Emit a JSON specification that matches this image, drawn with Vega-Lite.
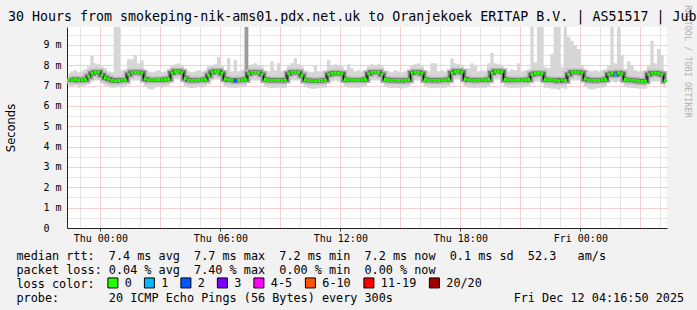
{
"$schema": "https://vega.github.io/schema/vega-lite/v6.json",
"width": 600, "height": 201,
"autosize": {"type": "none"},
"padding": {"left": 67, "top": 27, "right": 30, "bottom": 82},
"background": "#f2f2f2",
"config": {"view": {"fill": "#ffffff", "stroke": null}, "font": "DejaVu Sans Mono", "axis": {"labelOverlap": false}},
"title": {"text": "30 Hours from smokeping-nik-ams01.pdx.net.uk to Oranjekoek ERITAP B.V. | AS51517 | Jub", "anchor": "start", "frame": "group", "dx": -59, "dy": 30, "offset": 0, "baseline": "alphabetic", "font": "DejaVu Sans Mono", "fontSize": 13.3, "fontWeight": "normal", "color": "#000000"},
"datasets": {
"dark": [{"h0": 7.233, "h1": 7.4, "y0": 7.45, "y1": 9.88}],
"rtt": [
{"h":-1.583,"med":7.28,"lo":6.98,"hi":7.62,"loss":"0"},
{"h":-1.417,"med":7.27,"lo":6.95,"hi":7.7,"loss":"0"},
{"h":-1.25,"med":7.30,"lo":7.0,"hi":7.75,"loss":"0"},
{"h":-1.083,"med":7.26,"lo":6.9,"hi":7.65,"loss":"0"},
{"h":-0.917,"med":7.28,"lo":6.95,"hi":7.7,"loss":"0"},
{"h":-0.75,"med":7.30,"lo":7.0,"hi":7.8,"loss":"0"},
{"h":-0.583,"med":7.45,"lo":7.05,"hi":7.95,"loss":"0"},
{"h":-0.417,"med":7.60,"lo":7.2,"hi":8.45,"loss":"0"},
{"h":-0.25,"med":7.66,"lo":7.25,"hi":8.1,"loss":"0"},
{"h":-0.083,"med":7.67,"lo":7.25,"hi":8.05,"loss":"0"},
{"h":0.083,"med":7.52,"lo":7.1,"hi":7.95,"loss":"0"},
{"h":0.25,"med":7.38,"lo":7.0,"hi":7.85,"loss":"0"},
{"h":0.417,"med":7.32,"lo":6.95,"hi":7.7,"loss":"0"},
{"h":0.583,"med":7.26,"lo":6.9,"hi":7.65,"loss":"0"},
{"h":0.75,"med":7.22,"lo":6.9,"hi":9.88,"loss":"0"},
{"h":0.917,"med":7.25,"lo":6.92,"hi":9.88,"loss":"0"},
{"h":1.083,"med":7.27,"lo":6.9,"hi":7.75,"loss":"0"},
{"h":1.25,"med":7.28,"lo":6.95,"hi":7.8,"loss":"0"},
{"h":1.417,"med":7.55,"lo":7.05,"hi":8.3,"loss":"0"},
{"h":1.583,"med":7.64,"lo":7.25,"hi":8.3,"loss":"0"},
{"h":1.75,"med":7.66,"lo":7.25,"hi":8.5,"loss":"0"},
{"h":1.917,"med":7.65,"lo":7.25,"hi":8.1,"loss":"0"},
{"h":2.083,"med":7.62,"lo":7.2,"hi":8.25,"loss":"0"},
{"h":2.25,"med":7.33,"lo":6.95,"hi":7.75,"loss":"0"},
{"h":2.417,"med":7.27,"lo":6.85,"hi":7.7,"loss":"0"},
{"h":2.583,"med":7.28,"lo":6.8,"hi":7.65,"loss":"0"},
{"h":2.75,"med":7.28,"lo":6.9,"hi":7.7,"loss":"0"},
{"h":2.917,"med":7.29,"lo":6.95,"hi":7.75,"loss":"0"},
{"h":3.083,"med":7.28,"lo":6.9,"hi":7.65,"loss":"0"},
{"h":3.25,"med":7.30,"lo":6.95,"hi":7.7,"loss":"0"},
{"h":3.417,"med":7.32,"lo":7.0,"hi":7.8,"loss":"0"},
{"h":3.583,"med":7.62,"lo":7.2,"hi":8.0,"loss":"0"},
{"h":3.75,"med":7.70,"lo":7.3,"hi":8.05,"loss":"0"},
{"h":3.917,"med":7.70,"lo":7.3,"hi":8.1,"loss":"0"},
{"h":4.083,"med":7.66,"lo":7.25,"hi":8.0,"loss":"0"},
{"h":4.25,"med":7.35,"lo":6.95,"hi":7.8,"loss":"0"},
{"h":4.417,"med":7.27,"lo":6.9,"hi":7.7,"loss":"0"},
{"h":4.583,"med":7.25,"lo":6.88,"hi":7.65,"loss":"0"},
{"h":4.75,"med":7.26,"lo":6.9,"hi":7.7,"loss":"0"},
{"h":4.917,"med":7.28,"lo":6.92,"hi":7.75,"loss":"0"},
{"h":5.083,"med":7.27,"lo":6.9,"hi":7.7,"loss":"0"},
{"h":5.25,"med":7.30,"lo":6.95,"hi":7.75,"loss":"0"},
{"h":5.417,"med":7.50,"lo":7.05,"hi":7.95,"loss":"0"},
{"h":5.583,"med":7.66,"lo":7.25,"hi":8.0,"loss":"0"},
{"h":5.75,"med":7.70,"lo":7.3,"hi":8.05,"loss":"0"},
{"h":5.917,"med":7.70,"lo":7.3,"hi":8.4,"loss":"0"},
{"h":6.083,"med":7.60,"lo":7.2,"hi":8.0,"loss":"0"},
{"h":6.25,"med":7.32,"lo":6.95,"hi":7.75,"loss":"0"},
{"h":6.417,"med":7.28,"lo":6.9,"hi":8.35,"loss":"0"},
{"h":6.583,"med":7.27,"lo":6.9,"hi":7.7,"loss":"0"},
{"h":6.75,"med":7.24,"lo":6.88,"hi":8.25,"loss":"2"},
{"h":6.917,"med":7.26,"lo":6.9,"hi":7.7,"loss":"0"},
{"h":7.083,"med":7.27,"lo":6.92,"hi":7.75,"loss":"0"},
{"h":7.25,"med":7.30,"lo":6.95,"hi":9.88,"loss":"0"},
{"h":7.417,"med":7.58,"lo":7.2,"hi":8.0,"loss":"0"},
{"h":7.583,"med":7.65,"lo":7.25,"hi":8.05,"loss":"0"},
{"h":7.75,"med":7.65,"lo":7.25,"hi":8.1,"loss":"0"},
{"h":7.917,"med":7.64,"lo":7.25,"hi":8.0,"loss":"0"},
{"h":8.083,"med":7.55,"lo":7.15,"hi":7.95,"loss":"0"},
{"h":8.25,"med":7.30,"lo":6.95,"hi":7.75,"loss":"0"},
{"h":8.417,"med":7.27,"lo":6.9,"hi":7.7,"loss":"0"},
{"h":8.583,"med":7.25,"lo":6.88,"hi":8.2,"loss":"0"},
{"h":8.75,"med":7.27,"lo":6.9,"hi":7.75,"loss":"0"},
{"h":8.917,"med":7.26,"lo":6.9,"hi":8.1,"loss":"0"},
{"h":9.083,"med":7.25,"lo":6.88,"hi":7.7,"loss":"0"},
{"h":9.25,"med":7.27,"lo":6.9,"hi":7.7,"loss":"0"},
{"h":9.417,"med":7.58,"lo":7.15,"hi":8.0,"loss":"0"},
{"h":9.583,"med":7.65,"lo":7.25,"hi":8.1,"loss":"0"},
{"h":9.75,"med":7.66,"lo":7.25,"hi":8.35,"loss":"0"},
{"h":9.917,"med":7.64,"lo":7.25,"hi":8.05,"loss":"0"},
{"h":10.083,"med":7.50,"lo":7.1,"hi":7.95,"loss":"0"},
{"h":10.25,"med":7.28,"lo":6.92,"hi":7.75,"loss":"0"},
{"h":10.417,"med":7.25,"lo":6.88,"hi":7.7,"loss":"0"},
{"h":10.583,"med":7.24,"lo":6.85,"hi":7.65,"loss":"0"},
{"h":10.75,"med":7.22,"lo":6.85,"hi":8.0,"loss":"0"},
{"h":10.917,"med":7.24,"lo":6.88,"hi":7.7,"loss":"0"},
{"h":11.083,"med":7.25,"lo":6.9,"hi":7.7,"loss":"0"},
{"h":11.25,"med":7.27,"lo":6.9,"hi":7.75,"loss":"0"},
{"h":11.417,"med":7.55,"lo":7.15,"hi":8.25,"loss":"0"},
{"h":11.583,"med":7.60,"lo":7.2,"hi":8.0,"loss":"0"},
{"h":11.75,"med":7.62,"lo":7.25,"hi":8.05,"loss":"0"},
{"h":11.917,"med":7.60,"lo":7.2,"hi":8.0,"loss":"0"},
{"h":12.083,"med":7.58,"lo":7.2,"hi":7.95,"loss":"0"},
{"h":12.25,"med":7.30,"lo":6.95,"hi":7.75,"loss":"0"},
{"h":12.417,"med":7.28,"lo":6.9,"hi":8.05,"loss":"0"},
{"h":12.583,"med":7.27,"lo":6.9,"hi":7.85,"loss":"0"},
{"h":12.75,"med":7.28,"lo":6.9,"hi":7.7,"loss":"0"},
{"h":12.917,"med":7.27,"lo":6.9,"hi":7.75,"loss":"0"},
{"h":13.083,"med":7.28,"lo":6.92,"hi":7.7,"loss":"0"},
{"h":13.25,"med":7.30,"lo":6.95,"hi":7.75,"loss":"0"},
{"h":13.417,"med":7.58,"lo":7.15,"hi":7.95,"loss":"0"},
{"h":13.583,"med":7.65,"lo":7.25,"hi":8.05,"loss":"0"},
{"h":13.75,"med":7.66,"lo":7.25,"hi":8.0,"loss":"0"},
{"h":13.917,"med":7.65,"lo":7.25,"hi":8.05,"loss":"0"},
{"h":14.083,"med":7.55,"lo":7.15,"hi":7.95,"loss":"0"},
{"h":14.25,"med":7.30,"lo":6.95,"hi":7.75,"loss":"0"},
{"h":14.417,"med":7.27,"lo":6.9,"hi":7.7,"loss":"0"},
{"h":14.583,"med":7.25,"lo":6.88,"hi":7.65,"loss":"0"},
{"h":14.75,"med":7.26,"lo":6.9,"hi":7.75,"loss":"0"},
{"h":14.917,"med":7.25,"lo":6.88,"hi":7.7,"loss":"0"},
{"h":15.083,"med":7.24,"lo":6.85,"hi":7.65,"loss":"0"},
{"h":15.25,"med":7.26,"lo":6.9,"hi":7.7,"loss":"0"},
{"h":15.417,"med":7.28,"lo":6.92,"hi":7.75,"loss":"0"},
{"h":15.583,"med":7.62,"lo":7.2,"hi":8.0,"loss":"0"},
{"h":15.75,"med":7.66,"lo":7.25,"hi":8.05,"loss":"0"},
{"h":15.917,"med":7.65,"lo":7.25,"hi":8.1,"loss":"0"},
{"h":16.083,"med":7.60,"lo":7.2,"hi":8.0,"loss":"0"},
{"h":16.25,"med":7.30,"lo":6.95,"hi":7.75,"loss":"0"},
{"h":16.417,"med":7.26,"lo":6.9,"hi":7.7,"loss":"0"},
{"h":16.583,"med":7.27,"lo":6.9,"hi":8.1,"loss":"0"},
{"h":16.75,"med":7.25,"lo":6.88,"hi":8.1,"loss":"0"},
{"h":16.917,"med":7.26,"lo":6.9,"hi":7.7,"loss":"0"},
{"h":17.083,"med":7.27,"lo":6.9,"hi":7.75,"loss":"0"},
{"h":17.25,"med":7.27,"lo":6.9,"hi":7.7,"loss":"0"},
{"h":17.417,"med":7.30,"lo":6.95,"hi":7.8,"loss":"0"},
{"h":17.583,"med":7.62,"lo":7.2,"hi":8.35,"loss":"0"},
{"h":17.75,"med":7.70,"lo":7.3,"hi":8.1,"loss":"0"},
{"h":17.917,"med":7.70,"lo":7.3,"hi":8.05,"loss":"0"},
{"h":18.083,"med":7.66,"lo":7.25,"hi":8.0,"loss":"0"},
{"h":18.25,"med":7.32,"lo":6.95,"hi":7.8,"loss":"0"},
{"h":18.417,"med":7.28,"lo":6.9,"hi":7.85,"loss":"0"},
{"h":18.583,"med":7.27,"lo":6.9,"hi":8.1,"loss":"0"},
{"h":18.75,"med":7.26,"lo":6.88,"hi":8.0,"loss":"0"},
{"h":18.917,"med":7.27,"lo":6.9,"hi":7.7,"loss":"0"},
{"h":19.083,"med":7.28,"lo":6.9,"hi":7.75,"loss":"0"},
{"h":19.25,"med":7.27,"lo":6.9,"hi":7.7,"loss":"0"},
{"h":19.417,"med":7.30,"lo":6.95,"hi":8.1,"loss":"0"},
{"h":19.583,"med":7.62,"lo":7.2,"hi":8.6,"loss":"0"},
{"h":19.75,"med":7.70,"lo":7.3,"hi":8.1,"loss":"0"},
{"h":19.917,"med":7.70,"lo":7.3,"hi":8.05,"loss":"0"},
{"h":20.083,"med":7.68,"lo":7.25,"hi":8.0,"loss":"0"},
{"h":20.25,"med":7.30,"lo":6.95,"hi":7.8,"loss":"0"},
{"h":20.417,"med":7.27,"lo":6.9,"hi":7.7,"loss":"0"},
{"h":20.583,"med":7.26,"lo":6.88,"hi":7.8,"loss":"0"},
{"h":20.75,"med":7.27,"lo":6.9,"hi":7.75,"loss":"0"},
{"h":20.917,"med":7.28,"lo":6.9,"hi":8.1,"loss":"0"},
{"h":21.083,"med":7.27,"lo":6.9,"hi":7.7,"loss":"0"},
{"h":21.25,"med":7.28,"lo":6.92,"hi":7.75,"loss":"0"},
{"h":21.417,"med":7.30,"lo":6.95,"hi":7.8,"loss":"0"},
{"h":21.583,"med":7.55,"lo":7.15,"hi":9.88,"loss":"0"},
{"h":21.75,"med":7.60,"lo":7.2,"hi":8.15,"loss":"0"},
{"h":21.917,"med":7.60,"lo":7.2,"hi":9.88,"loss":"0"},
{"h":22.083,"med":7.58,"lo":7.15,"hi":9.88,"loss":"0"},
{"h":22.25,"med":7.30,"lo":6.9,"hi":7.9,"loss":"0"},
{"h":22.417,"med":7.28,"lo":6.88,"hi":7.85,"loss":"0"},
{"h":22.583,"med":7.28,"lo":6.85,"hi":8.55,"loss":"0"},
{"h":22.75,"med":7.26,"lo":6.85,"hi":9.88,"loss":"0"},
{"h":22.917,"med":7.22,"lo":6.8,"hi":9.88,"loss":"0"},
{"h":23.083,"med":7.28,"lo":6.88,"hi":7.9,"loss":"0"},
{"h":23.25,"med":7.25,"lo":6.85,"hi":9.88,"loss":"0"},
{"h":23.417,"med":7.55,"lo":7.1,"hi":9.4,"loss":"0"},
{"h":23.583,"med":7.66,"lo":7.25,"hi":9.2,"loss":"0"},
{"h":23.75,"med":7.67,"lo":7.25,"hi":9.0,"loss":"0"},
{"h":23.917,"med":7.66,"lo":7.25,"hi":8.8,"loss":"0"},
{"h":24.083,"med":7.62,"lo":7.2,"hi":8.0,"loss":"0"},
{"h":24.25,"med":7.33,"lo":6.95,"hi":7.8,"loss":"0"},
{"h":24.417,"med":7.27,"lo":6.85,"hi":7.75,"loss":"0"},
{"h":24.583,"med":7.26,"lo":6.8,"hi":7.7,"loss":"0"},
{"h":24.75,"med":7.25,"lo":6.85,"hi":7.75,"loss":"0"},
{"h":24.917,"med":7.26,"lo":6.88,"hi":7.7,"loss":"0"},
{"h":25.083,"med":7.28,"lo":6.9,"hi":7.75,"loss":"0"},
{"h":25.25,"med":7.30,"lo":6.92,"hi":7.8,"loss":"0"},
{"h":25.417,"med":7.55,"lo":7.15,"hi":8.0,"loss":"0"},
{"h":25.583,"med":7.60,"lo":7.2,"hi":9.88,"loss":"0"},
{"h":25.75,"med":7.53,"lo":7.15,"hi":8.1,"loss":"1"},
{"h":25.917,"med":7.62,"lo":7.2,"hi":9.88,"loss":"0"},
{"h":26.083,"med":7.58,"lo":7.15,"hi":8.5,"loss":"0"},
{"h":26.25,"med":7.30,"lo":6.92,"hi":7.8,"loss":"0"},
{"h":26.417,"med":7.28,"lo":6.9,"hi":8.2,"loss":"0"},
{"h":26.583,"med":7.26,"lo":6.88,"hi":8.0,"loss":"0"},
{"h":26.75,"med":7.25,"lo":6.88,"hi":7.75,"loss":"0"},
{"h":26.917,"med":7.22,"lo":6.85,"hi":7.7,"loss":"0"},
{"h":27.083,"med":7.20,"lo":6.85,"hi":7.7,"loss":"0"},
{"h":27.25,"med":7.22,"lo":6.85,"hi":7.75,"loss":"0"},
{"h":27.417,"med":7.55,"lo":7.15,"hi":8.0,"loss":"0"},
{"h":27.583,"med":7.62,"lo":7.2,"hi":9.2,"loss":"0"},
{"h":27.75,"med":7.62,"lo":7.2,"hi":8.1,"loss":"0"},
{"h":27.917,"med":7.60,"lo":7.2,"hi":8.8,"loss":"0"},
{"h":28.083,"med":7.55,"lo":7.15,"hi":8.5,"loss":"0"},
{"h":28.25,"med":7.24,"lo":6.9,"hi":7.7,"loss":"0"}
]},
"layer": [
{"layer": [
{"data": {"name": "rtt"},
 "mark": {"type": "area", "interpolate": "step", "color": "#d6d6d6", "clip": true},
 "encoding": {
  "x": {"field": "h", "type": "quantitative",
   "scale": {"domain": [-1.6667, 28.3333], "nice": false, "zero": false},
   "axis": {"values": [0, 6, 12, 18, 24],
    "labelExpr": "(datum.value < 24 ? 'Thu ' : 'Fri ') + (datum.value % 24 < 10 ? '0' : '') + (datum.value % 24) + ':00'",
    "labelOverlap": false, "labelFlush": false, "labelBound": false,
    "labelFont": "DejaVu Sans Mono", "labelFontSize": 10, "labelColor": "#000000", "labelPadding": 2,
    "ticks": true, "tickSize": 3, "tickColor": "#333333",
    "domainColor": "#222222", "grid": false,
    "title": ["median rtt:\u00a0\u00a07.4\u00a0ms\u00a0avg\u00a0\u00a07.7\u00a0ms\u00a0max\u00a0\u00a07.2\u00a0ms\u00a0min\u00a0\u00a07.2\u00a0ms\u00a0now\u00a0\u00a00.1\u00a0ms\u00a0sd\u00a0\u00a052.3\u00a0\u00a0\u00a0am/s",
              "packet\u00a0loss:\u00a00.04\u00a0%\u00a0avg\u00a0\u00a07.40\u00a0%\u00a0max\u00a0\u00a00.00\u00a0%\u00a0min\u00a0\u00a00.00\u00a0%\u00a0now",
              "loss\u00a0color:"],
    "titleX": -51, "titleY": 31, "titleAlign": "left", "titleAnchor": "start", "titleBaseline": "alphabetic",
    "titleFont": "DejaVu Sans Mono", "titleFontSize": 11.8, "titleFontWeight": "normal", "titleColor": "#000000", "titleLineHeight": 14}},
  "y": {"field": "hi", "type": "quantitative",
   "scale": {"domain": [0, 9.88], "nice": false, "zero": true},
   "axis": {"title": "Seconds", "titleFont": "DejaVu Sans", "titleFontSize": 11.5, "titleFontWeight": "normal", "titleColor": "#000000",
    "titleX": -56, "titleY": 100.5, "titleAngle": 270, "titleAlign": "center", "titleBaseline": "middle",
    "values": [0, 1, 2, 3, 4, 5, 6, 7, 8, 9], "tickCount": 10,
    "labelExpr": "datum.value === 0 ? '0' : datum.value + ' m'",
    "labelOverlap": false, "labelAlign": "left", "labelFont": "DejaVu Sans Mono", "labelFontSize": 10, "labelColor": "#000000", "labelPadding": 24,
    "ticks": false, "domainColor": "#222222", "grid": false}},
  "y2": {"field": "lo"}}},
{"data": {"name": "dark"},
 "mark": {"type": "rect", "color": "#9a9a9a", "clip": true},
 "encoding": {"x": {"field": "h0", "type": "quantitative"}, "x2": {"field": "h1"}, "y": {"field": "y1", "type": "quantitative"}, "y2": {"field": "y0"}}},
{"data": {"name": "rtt"},
 "mark": {"type": "line", "interpolate": "step", "color": "#b8b8b8", "strokeWidth": 7},
 "encoding": {"x": {"field": "h", "type": "quantitative"}, "y": {"field": "med", "type": "quantitative"}}},
{"data": {"name": "rtt"},
 "mark": {"type": "line", "interpolate": "step", "color": "#6a6a6a", "strokeWidth": 4},
 "encoding": {"x": {"field": "h", "type": "quantitative"}, "y": {"field": "med", "type": "quantitative"}}},
{"data": {"name": "rtt"},
 "mark": {"type": "line", "interpolate": "step", "color": "#000000", "strokeWidth": 1},
 "encoding": {"x": {"field": "h", "type": "quantitative"}, "y": {"field": "med", "type": "quantitative"}}}
]},
{"data": {"name": "rtt"},
 "mark": {"type": "square", "size": 9, "opacity": 1, "filled": true},
 "encoding": {
  "x": {"field": "h", "type": "quantitative",
   "axis": {"orient": "bottom", "values": [-1, 0, 1, 2, 3, 4, 5, 6, 7, 8, 9, 10, 11, 12, 13, 14, 15, 16, 17, 18, 19, 20, 21, 22, 23, 24, 25, 26, 27, 28],
    "labels": false, "ticks": false, "domain": false,
    "grid": true, "gridDash": [1, 1], "gridOpacity": 1,
    "gridColor": {"condition": {"test": "datum.value % 3 === 0", "value": "#f0a0a0"}, "value": "#cccccc"},
    "title": "probe:\u00a0\u00a0\u00a0\u00a0\u00a0\u00a0\u00a020\u00a0ICMP\u00a0Echo\u00a0Pings\u00a0(56\u00a0Bytes)\u00a0every\u00a0300s\u00a0\u00a0\u00a0\u00a0\u00a0\u00a0\u00a0\u00a0\u00a0\u00a0\u00a0\u00a0\u00a0\u00a0\u00a0\u00a0\u00a0Fri\u00a0Dec\u00a012\u00a004:16:50\u00a02025",
    "titleX": -51, "titleY": 73, "titleAlign": "left", "titleAnchor": "start", "titleBaseline": "alphabetic",
    "titleFont": "DejaVu Sans Mono", "titleFontSize": 11.8, "titleFontWeight": "normal", "titleColor": "#000000"}},
  "y": {"field": "med", "type": "quantitative", "scale": {"domain": [0, 9.88], "nice": false, "zero": true},
   "axis": {"orient": "right", "title": "RRDTOOL / TOBI OETIKER", "labels": false, "ticks": false, "domain": false,
    "values": [0.5, 1, 1.5, 2, 2.5, 3, 3.5, 4, 4.5, 5, 5.5, 6, 6.5, 7, 7.5, 8, 8.5, 9, 9.5],
    "grid": true, "gridDash": [1, 1], "gridOpacity": 1,
    "gridColor": {"condition": {"test": "datum.value % 1 === 0", "value": "#f0a0a0"}, "value": "#cccccc"},
    "titleAngle": 90, "titleX": 20, "titleY": 34, "titleAlign": "center", "titleBaseline": "middle",
    "titleFont": "DejaVu Sans Mono", "titleFontSize": 8.5, "titleFontWeight": "normal", "titleColor": "#b0b0b0"}},
  "fill": {"field": "loss", "type": "nominal",
   "scale": {"domain": ["0", "1", "2", "3", "4-5", "6-10", "11-19", "20/20"], "range": ["#26ff00", "#00b8ff", "#0059ff", "#7e00ff", "#ff00ff", "#ff5500", "#ff0000", "#a10000"]},
   "legend": {"orient": "none", "legendX": 40, "legendY": 250, "direction": "horizontal",
    "title": null,
    "symbolType": "square", "symbolSize": 100, "symbolStrokeColor": "#000000", "symbolStrokeWidth": 1, "symbolOpacity": 1,
    "labelFont": "DejaVu Sans Mono", "labelFontSize": 11.8, "labelColor": "#000000", "labelOffset": 6, "columnPadding": 9.5, "padding": 0}}}}
],
"resolve": {"scale": {"y": "independent"}, "axis": {"x": "independent", "y": "independent"}}
}
